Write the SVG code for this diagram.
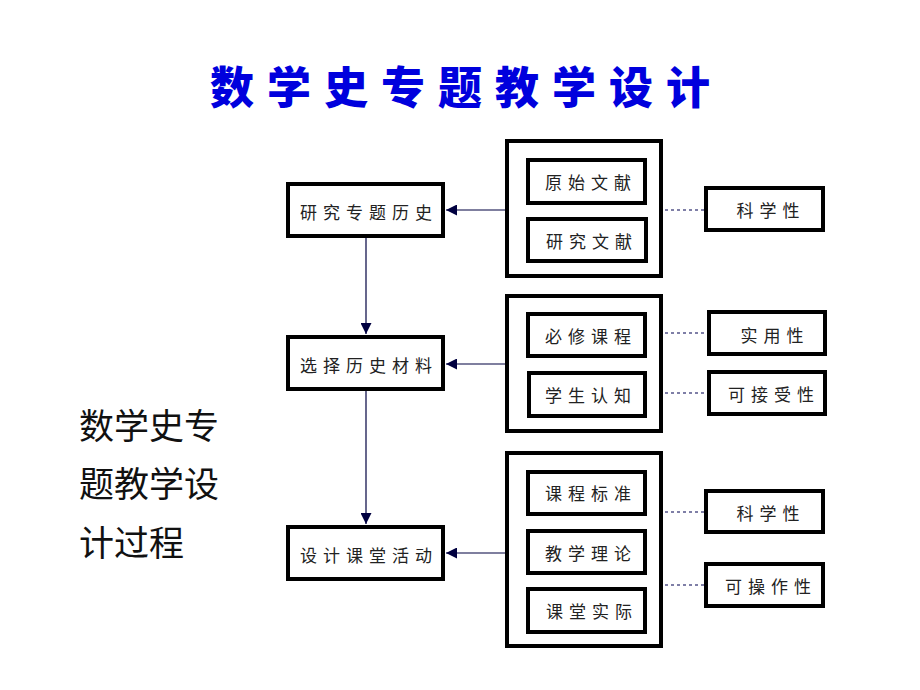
<svg xmlns="http://www.w3.org/2000/svg" width="920" height="690" viewBox="0 0 920 690">
<style>
.b{fill:#fff;stroke:#000;stroke-width:4}
.t{font-family:"Noto Sans CJK SC",sans-serif;font-size:17px;letter-spacing:6px;fill:#222;text-anchor:middle;dominant-baseline:central}
.c{stroke:#000040;stroke-width:1.2;fill:none}
.d{stroke:#000050;stroke-width:1.2;stroke-dasharray:3 3;fill:none}
.title{font-family:"Noto Sans CJK SC",sans-serif;font-weight:900;font-size:44px;letter-spacing:13px;fill:#0000DD}
.side{font-family:"Noto Sans CJK SC",sans-serif;font-size:35px;fill:#111}
</style>
<defs>
<marker id="ah" viewBox="0 0 10 10" refX="10" refY="5" markerWidth="14" markerHeight="11" markerUnits="userSpaceOnUse" orient="auto">
<path d="M0,0 L10,5 L0,10 z" fill="#000040"/>
</marker>
</defs>
<rect width="920" height="690" fill="#fff"/>
<text class="title" x="210" y="104">数学史专题教学设计</text>
<g id="side"><text class="side" x="79" y="439">数学史专</text><text class="side" x="79" y="497">题教学设</text><text class="side" x="79" y="556">计过程</text></g>
<g id="connectors">
<line class="c" x1="366" y1="237" x2="366" y2="334" marker-end="url(#ah)"/>
<line class="c" x1="366" y1="390" x2="366" y2="524" marker-end="url(#ah)"/>
<line class="c" x1="506" y1="210" x2="446" y2="210" marker-end="url(#ah)"/>
<line class="c" x1="506" y1="364" x2="446" y2="364" marker-end="url(#ah)"/>
<line class="c" x1="506" y1="553" x2="446" y2="553" marker-end="url(#ah)"/>
<line class="d" x1="665" y1="210" x2="705" y2="210"/>
<line class="d" x1="665" y1="333" x2="708" y2="333"/>
<line class="d" x1="665" y1="393" x2="708" y2="393"/>
<line class="d" x1="665" y1="512" x2="705" y2="512"/>
<line class="d" x1="665" y1="585" x2="705" y2="585"/>
</g>
<g id="n1"><rect class="b" x="288" y="184" width="155" height="52"/><text class="t" x="369" y="211">研究专题历史</text></g>
<g id="n2"><rect class="b" x="288" y="337" width="155" height="52"/><text class="t" x="369" y="364">选择历史材料</text></g>
<g id="n3"><rect class="b" x="288" y="527" width="155" height="52"/><text class="t" x="369" y="554">设计课堂活动</text></g>
<g id="g1"><rect class="b" x="507" y="141" width="154" height="135"/></g>
<g id="g2"><rect class="b" x="507" y="296" width="154" height="135"/></g>
<g id="g3"><rect class="b" x="507" y="453" width="154" height="193"/></g>
<g id="i1"><rect class="b" x="528" y="160" width="117" height="43"/><text class="t" x="591" y="181">原始文献</text></g>
<g id="i2"><rect class="b" x="528" y="219" width="118" height="42"/><text class="t" x="592" y="240">研究文献</text></g>
<g id="i3"><rect class="b" x="528" y="314" width="117" height="42"/><text class="t" x="591" y="335">必修课程</text></g>
<g id="i4"><rect class="b" x="529" y="373" width="116" height="43"/><text class="t" x="591" y="394">学生认知</text></g>
<g id="i5"><rect class="b" x="528" y="472" width="117" height="42"/><text class="t" x="591" y="492">课程标准</text></g>
<g id="i6"><rect class="b" x="528" y="531" width="117" height="42"/><text class="t" x="591" y="552">教学理论</text></g>
<g id="i7"><rect class="b" x="528" y="589" width="117" height="43"/><text class="t" x="592" y="610">课堂实际</text></g>
<g id="r1"><rect class="b" x="706" y="188" width="117" height="42"/><text class="t" x="771" y="209">科学性</text></g>
<g id="r2"><rect class="b" x="709" y="312" width="116" height="42"/><text class="t" x="775" y="334">实用性</text></g>
<g id="r3"><rect class="b" x="709" y="372" width="116" height="42"/><text class="t" x="774" y="393">可接受性</text></g>
<g id="r4"><rect class="b" x="706" y="491" width="117" height="41"/><text class="t" x="771" y="512">科学性</text></g>
<g id="r5"><rect class="b" x="706" y="564" width="117" height="42"/><text class="t" x="771" y="585">可操作性</text></g>
</svg>
